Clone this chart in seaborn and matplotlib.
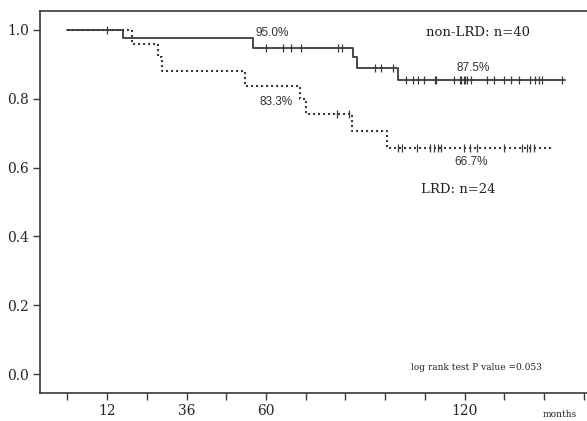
import numpy as np
import pandas as pd
import matplotlib
matplotlib.use('Agg')
import matplotlib.pyplot as plt
import seaborn as sns

# Kaplan-Meier steps (months, survival)
non_lrd_time = [0, 16.7, 56.0, 86.3, 87.5, 100.0, 150.3]
non_lrd_surv = [1.0, 0.975, 0.948, 0.92, 0.889, 0.853, 0.853]
non_lrd_censor = [12.0, 60.0, 65.0, 67.6, 70.6, 81.8, 83.0, 93.0, 94.8, 98.5,
                  102.4, 104.5, 106.0, 107.6, 110.9, 111.5, 116.7, 118.5, 119.0,
                  119.7, 120.0, 120.6, 122.0, 126.7, 129.0, 132.0, 134.0, 136.4,
                  139.7, 141.2, 142.4, 143.3, 149.4]

lrd_time = [0, 19.6, 27.5, 28.7, 53.8, 70.4, 72.0, 86.0, 96.4, 146.4]
lrd_surv = [1.0, 0.96, 0.92, 0.88, 0.837, 0.80, 0.756, 0.707, 0.657, 0.657]
lrd_censor = [81.5, 85.0, 100.0, 101.0, 105.5, 109.4, 110.6, 112.0, 113.0,
              119.7, 121.5, 123.6, 131.8, 137.3, 138.8, 139.7, 140.9]

xticks = list(range(0, 157, 12))
xticklabels = ['' if t not in (12, 36, 60, 120) else str(t) for t in xticks]
yticks = [0.0, 0.2, 0.4, 0.6, 0.8, 1.0]


def censor_points(times, steps_t, steps_s):
    idx = np.searchsorted(steps_t, times, side='right') - 1
    return pd.DataFrame({'t': times, 's': np.array(steps_s)[idx]})


sns.set_style('white')
plt.rcParams['font.family'] = ['DejaVu Serif']

fig = plt.figure(figsize=(5.87, 4.21), dpi=100)
ax = fig.add_axes([0.068, 0.0665, 0.935, 0.9075])

col = '#3a3a3a'
df1 = pd.DataFrame({'t': non_lrd_time, 's': non_lrd_surv})
df2 = pd.DataFrame({'t': lrd_time, 's': lrd_surv})
sns.lineplot(data=df1, x='t', y='s', drawstyle='steps-post', color=col, lw=1.3, ax=ax)
sns.lineplot(data=df2, x='t', y='s', drawstyle='steps-post', color=col, lw=1.5,
             linestyle=(0, (1, 1.4)), ax=ax)

c1 = censor_points(non_lrd_censor, non_lrd_time, non_lrd_surv)
c2 = censor_points(lrd_censor, lrd_time, lrd_surv)
sns.scatterplot(data=c1, x='t', y='s', marker='|', s=30, color=col, linewidth=0.9, ax=ax)
sns.scatterplot(data=c2, x='t', y='s', marker='|', s=30, color=col, linewidth=0.9, ax=ax)

ax.set_xlim(-8.3, 157.5)
ax.set_ylim(-0.055, 1.055)
ax.set_xticks(xticks)
ax.set_xticklabels(xticklabels, fontsize=10)
ax.set_yticks(yticks)
ax.set_yticklabels([f'{v:.1f}' for v in yticks], fontsize=10)
ax.tick_params(bottom=True, left=True, direction='out', length=5, width=1,
               color=col, pad=3)
ax.set_xlabel('')
ax.set_ylabel('')
for sp in ax.spines.values():
    sp.set_color(col)
    sp.set_linewidth(1.2)

pct = dict(family='Liberation Sans', fontsize=8.5, color='#333333', ha='center', va='center')
ax.text(62, 0.991, '95.0%', **pct)
ax.text(63, 0.79, '83.3%', **pct)
ax.text(122.7, 0.889, '87.5%', **pct)
ax.text(122, 0.615, '66.7%', **pct)
ax.text(124, 0.991, 'non-LRD: n=40', fontsize=9.5, ha='center', va='center', color='#222222')
ax.text(118, 0.535, 'LRD: n=24', fontsize=9.5, ha='center', va='center', color='#222222')
ax.text(123.6, 0.02, 'log rank test P value =0.053', fontsize=6.5, ha='center', va='center',
        color='#222222')
fig.text(0.925, 0.016, 'months', fontsize=6.5, ha='left', va='center', color='#222222')

fig.savefig('out.png', dpi=100)
